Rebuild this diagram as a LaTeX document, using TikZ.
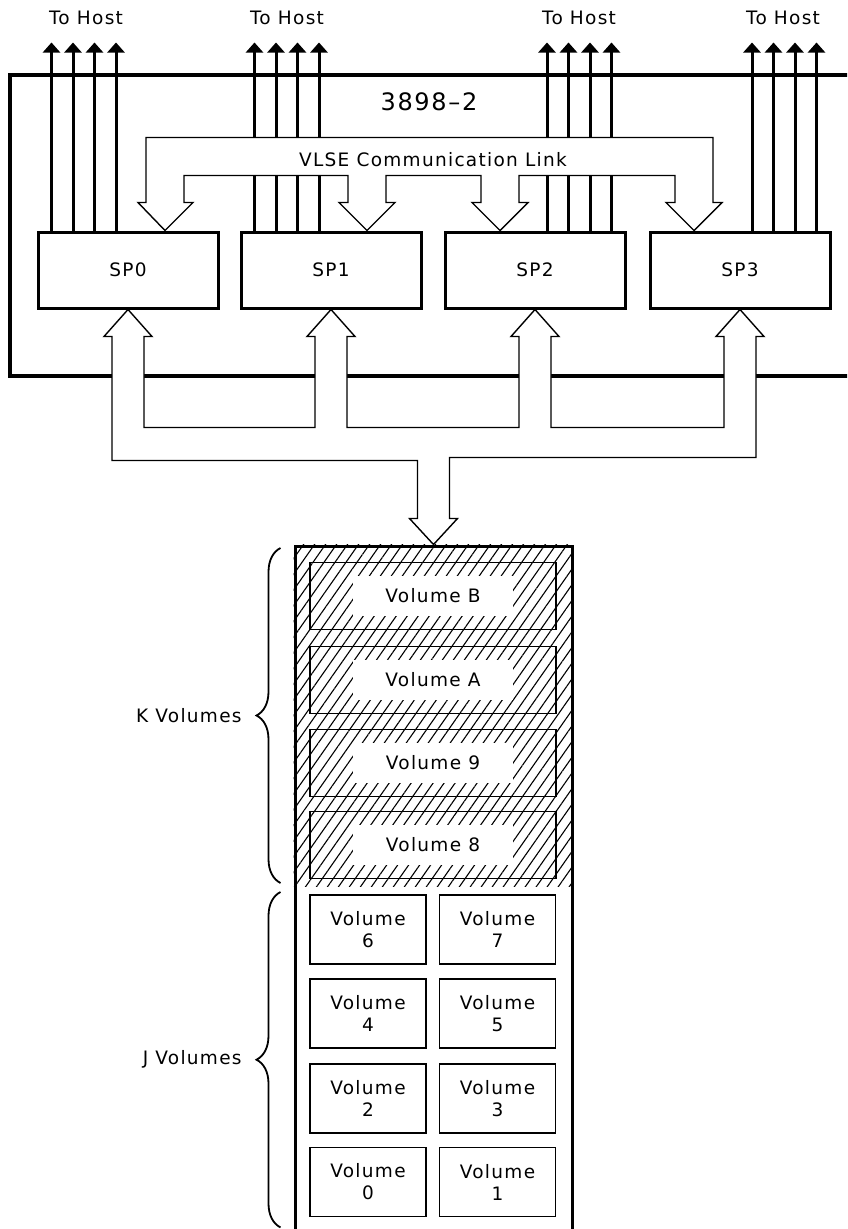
\documentclass[tikz,border=0pt]{standalone}
\usepackage{fontspec}
\setmainfont{DejaVu Sans}[LetterSpace=7]
\usepackage{tikz}
\usetikzlibrary{arrows.meta,positioning,calc,decorations.pathreplacing,patterns.meta}

\begin{document}
\begin{tikzpicture}[x=1pt,y=-1pt,font=\fontsize{18.5}{22}\selectfont,
  spbox/.style={draw,line width=3pt,minimum width=180pt,minimum height=76pt},
  host/.style={line width=3pt,-{Triangle[width=17pt,length=10pt]}},
  bus/.style={draw,fill=white,line width=1.4pt},
  kvol/.style={draw,line width=1.8pt,minimum width=246pt,minimum height=67pt,
    label={[fill=white,minimum width=160pt,minimum height=40pt,inner sep=0pt]center:#1}},
  jvol/.style={draw,line width=1.8pt,minimum width=116pt,minimum height=69pt,align=center},
  curly/.style={line width=1.8pt,decorate,decoration={brace,amplitude=24pt}}]
\useasboundingbox (0,0) rectangle (847,1229);
\clip (0,0) rectangle (847,1229);
\draw[line width=3.5pt] (10,75) rectangle (900,376);
\node[spbox] (sp0) at (128,270) {SP0};
\node[spbox] (sp1) at (331,270) {SP1};
\node[spbox] (sp2) at (535,270) {SP2};
\node[spbox] (sp3) at (740,270) {SP3};
\node (title) at (429,102) {\fontsize{24}{28}\selectfont 3898--2};
\node (host0) at (86,18) {To Host};
\node (host1) at (287,18) {To Host};
\node (host2) at (579,18) {To Host};
\node (host3) at (783,18) {To Host};
\foreach \d in {15,36.5,58,79.5} {
  \draw[host] ($(sp0.north west)+(\d,0)$) -- ++(0,-188);
  \draw[host] ($(sp1.north west)+(\d,0)$) -- ++(0,-188);
  \draw[host] ($(sp2.north east)+(-\d,0)$) -- ++(0,-188);
  \draw[host] ($(sp3.north east)+(-\d,0)$) -- ++(0,-188);
}
\coordinate (in0) at ($(sp0.north)+(37,0)$);
\coordinate (in1) at ($(sp1.north)+(36,0)$);
\coordinate (in2) at ($(sp2.north)+(-35,0)$);
\coordinate (in3) at ($(sp3.north)+(-46,0)$);
\draw[bus] (in0) -- ++(-27,-28) -- ++(8,0) |- ($(in3)+(19,-93)$) -- ++(0,65) -- ++(9,0)
  -- (in3) -- ++(-28,-28) -- ++(9,0) |- ($(in2)+(19,-55)$) -- ++(0,27) -- ++(9,0)
  -- (in2) -- ++(-28,-28) -- ++(9,0) |- ($(in1)+(19,-55)$) -- ++(0,27) -- ++(9,0)
  -- (in1) -- ++(-28,-28) -- ++(9,0) |- ($(in0)+(19,-55)$) -- ++(0,27) -- ++(9,0) -- cycle;
\node (link) at (433,160) {VLSE Communication Link};
\node[draw,line width=3pt,minimum width=277pt,minimum height=720pt] (stack) at (433.5,906) {};
\coordinate (kbot) at (0,886);
\path[pattern={Lines[angle=55,distance=9pt,line width=1.1pt]}] (stack.north west) rectangle (stack.east |- kbot);
\node[kvol=Volume B] (volB) at (433,596) {};
\node[kvol=Volume A] (volA) at (433,680) {};
\node[kvol=Volume 9] (vol9) at (433,763) {};
\node[kvol=Volume 8] (vol8) at (433,845) {};
\node[jvol] (vol6) at (368,929.5) {Volume\\6};
\node[jvol] (vol7) at (497.5,929.5) {Volume\\7};
\node[jvol] (vol4) at (368,1013.5) {Volume\\4};
\node[jvol] (vol5) at (497.5,1013.5) {Volume\\5};
\node[jvol] (vol2) at (368,1098.5) {Volume\\2};
\node[jvol] (vol3) at (497.5,1098.5) {Volume\\3};
\node[jvol] (vol0) at (368,1182) {Volume\\0};
\node[jvol] (vol1) at (497.5,1182) {Volume\\1};
\draw[bus] (sp0.south) -- ++(24,27) -- ++(-8,0) |- ($(sp1.south)+(-16,118)$) -- ++(0,-91) -- ++(-8,0)
  -- (sp1.south) -- ++(24,27) -- ++(-8,0) |- ($(sp2.south)+(-16,118)$) -- ++(0,-91) -- ++(-8,0)
  -- (sp2.south) -- ++(24,27) -- ++(-8,0) |- ($(sp3.south)+(-16,118)$) -- ++(0,-91) -- ++(-8,0)
  -- (sp3.south) -- ++(24,27) -- ++(-8,0) |- ($(stack.north)+(16,-87)$) -- ++(0,61) -- ++(8,0)
  -- (stack.north) -- ++(-24,-26) -- ++(8,0) |- ($(sp0.south)+(-16,151)$) -- ++(0,-124) -- ++(-8,0) -- cycle;
\draw[curly] ($(stack.west |- kbot)+(-13,-3)$) -- ($(stack.north west)+(-13,3.5)$)
  node[midway,left=38pt,inner sep=0pt] {K Volumes};
\draw[curly] ($(stack.west |- vol0.south)+(-13,10)$) -- ($(stack.west |- kbot)+(-13,6)$)
  node[midway,left=38pt,inner sep=0pt] {J Volumes};
\end{tikzpicture}
\end{document}
